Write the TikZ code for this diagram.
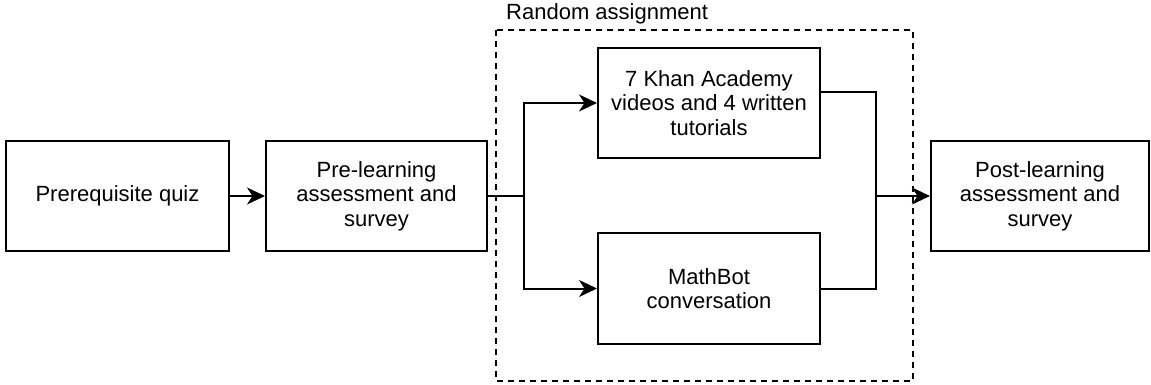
\documentclass[tikz,border=0pt]{standalone}
\usepackage{fontspec}
\setmainfont{Liberation Sans}
\usetikzlibrary{arrows.meta}
\tikzset{
  box/.style={draw=black, line width=2pt, fill=white, align=center, inner sep=0pt,
    font=\fontsize{22}{24.5}\selectfont},
  conn/.style={draw=black, line width=2pt},
  arr/.style={conn, -{Stealth[length=18pt,width=17pt,inset=5.5pt]}},
  groupbox/.style={draw=black, line width=2pt, dash pattern=on 6pt off 5pt},
}
\begin{document}
\begin{tikzpicture}[x=1pt,y=-1pt]
\useasboundingbox (0,0) rectangle (1151,385);
% group
\draw[groupbox] (496,30) rectangle (913,381);
\node[anchor=base west, inner sep=0pt, font=\fontsize{22}{24.5}\selectfont] (lbl) at (506,20) {Random assignment};
% boxes
\node[box, minimum width=223pt, minimum height=110pt] (pq) at (117.5,196) {Prerequisite quiz};
\node[box, minimum width=221pt, minimum height=110pt] (pre) at (376.5,196) {Pre-learning\\assessment and\\survey};
\node[box, minimum width=222pt, minimum height=110pt] (khan) at (709,103) {7 Khan Academy\\videos and 4 written\\tutorials};
\node[box, minimum width=222pt, minimum height=111pt] (math) at (709,288.5) {MathBot\\conversation};
\node[box, minimum width=218pt, minimum height=110pt] (post) at (1040,196) {Post-learning\\assessment and\\survey};
% junctions
\coordinate (split) at (524,196);
\coordinate (merge) at (876,196);
% connectors
\draw[arr] (pq.east) -- (pre.west);
\draw[conn] (pre.east) -- (split);
\draw[arr] (split) |- (khan.west);
\draw[arr] (split) |- (math.west);
\draw[conn] ([yshift=11pt]khan.east) -| (merge);
\draw[conn] (math.east) -| (merge);
\draw[arr] (merge) -- (post.west);
\end{tikzpicture}
\end{document}
